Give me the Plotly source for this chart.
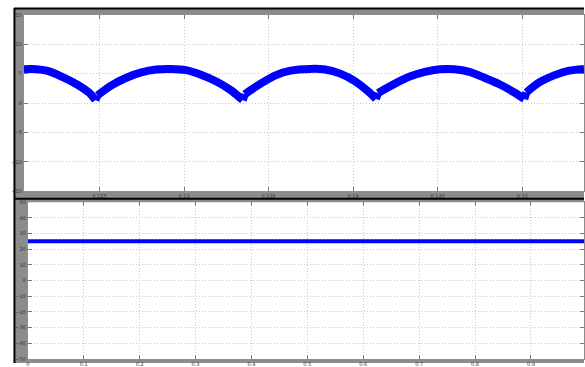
import plotly.graph_objects as go

# Top scope: rectified output voltage (V) over time (s)
t_top = [0.12053, 0.12100, 0.12188, 0.12276, 0.12365, 0.12441, 0.12476, 0.12488,
         0.12571, 0.12659, 0.12747, 0.12835, 0.12924, 0.13012, 0.13100, 0.13188,
         0.13276, 0.13347, 0.13359, 0.13453, 0.13541, 0.13629, 0.13747, 0.13835,
         0.13924, 0.14012, 0.14088, 0.14135, 0.14147, 0.14247, 0.14335, 0.14424,
         0.14512, 0.14600, 0.14688, 0.14776, 0.14865, 0.14953, 0.15012, 0.15024,
         0.15100, 0.15188, 0.15276, 0.15365]
v_top = [5.75, 5.8, 5.5, 4.5, 3.2, 1.7, 0.5, 1.3,
         3.0, 4.3, 5.2, 5.7, 5.8, 5.6, 4.8, 3.7,
         2.2, 0.5, 1.5, 3.3, 4.7, 5.5, 5.8, 5.7,
         5.0, 3.7, 2.0, 0.7, 1.7, 3.3, 4.5, 5.3,
         5.75, 5.75, 5.3, 4.3, 3.2, 1.8, 0.7, 1.8,
         3.5, 4.7, 5.5, 5.8]

# Bottom scope: steady DC level
t_bot = [0.0, 0.25, 0.5, 0.75, 1.0]
v_bot = [25, 25, 25, 25, 25]

top_xticks = [0.125, 0.13, 0.135, 0.14, 0.145, 0.15]
top_xlabels = ["0.125", "0.13", "0.135", "0.14", "0.145", "0.15"]
top_yticks = [-15, -10, -5, 0, 5, 10, 15]
bot_xticks = [0, 0.1, 0.2, 0.3, 0.4, 0.5, 0.6, 0.7, 0.8, 0.9]
bot_xlabels = ["0", "0.1", "0.2", "0.3", "0.4", "0.5", "0.6", "0.7", "0.8", "0.9"]
bot_yticks = [-50, -40, -30, -20, -10, 0, 10, 20, 30, 40, 50]

W, H = 585, 367


def px_x(x):
    return x / W


def px_y(y):
    return 1 - y / H


BLUE = "#0000ff"
FRAME = "#8c8c8c"
GRID = "#c8c8c8"
TICKFONT = dict(family="DejaVu Sans", size=5, color="#333333")

fig = go.Figure()
# the cusp after each trough is kept by splitting the arches into separate segments
seg_breaks = [i for i in range(1, len(t_top)) if v_top[i] > v_top[i - 1] and v_top[i - 1] <= 0.7]
starts = [0] + seg_breaks
ends = seg_breaks + [len(t_top)]
for a, b in zip(starts, ends):
    fig.add_trace(go.Scatter(x=t_top[a:b], y=v_top[a:b], mode="lines",
                             line=dict(color=BLUE, width=8, shape="spline", smoothing=0.8),
                             xaxis="x", yaxis="y", showlegend=False))
    if b < len(t_top):
        # short link across the cusp
        fig.add_trace(go.Scatter(x=t_top[b - 1:b + 1], y=v_top[b - 1:b + 1], mode="lines",
                                 line=dict(color=BLUE, width=8),
                                 xaxis="x", yaxis="y", showlegend=False))
fig.add_trace(go.Scatter(x=t_bot, y=v_bot, mode="lines",
                         line=dict(color=BLUE, width=4),
                         xaxis="x2", yaxis="y2", showlegend=False))

axis_common = dict(showgrid=True, gridcolor=GRID, griddash="1px,2px", gridwidth=1,
                   zeroline=False, ticks="inside", ticklen=4, tickcolor="#777777",
                   showline=True, linecolor=FRAME, linewidth=1, mirror="ticks",
                   tickfont=TICKFONT)

fig.update_layout(
    width=W, height=H,
    margin=dict(l=0, r=0, t=0, b=0),
    paper_bgcolor="white", plot_bgcolor="white",
    xaxis=dict(domain=[px_x(22), 1], range=[t_top[0], t_top[-1]],
               tickvals=top_xticks, ticktext=top_xlabels, anchor="y", **axis_common),
    yaxis=dict(domain=[px_y(192), px_y(12)], range=[-15, 15],
               tickvals=top_yticks, anchor="x", **axis_common),
    xaxis2=dict(domain=[px_x(26), 1], range=[0, 0.995],
                tickvals=bot_xticks, ticktext=bot_xlabels, anchor="y2", **axis_common),
    yaxis2=dict(domain=[px_y(363), px_y(203)], range=[-50, 50],
                tickvals=bot_yticks, anchor="x2", **axis_common),
)

shapes = [
    # scope window frame
    dict(type="rect", xref="paper", yref="paper", layer="below",
         x0=px_x(13), x1=1, y0=0, y1=px_y(6), fillcolor=FRAME, line=dict(width=0)),
    dict(type="rect", xref="paper", yref="paper", layer="below",
         x0=px_x(22), x1=1, y0=px_y(192), y1=px_y(12), fillcolor="white", line=dict(width=0)),
    dict(type="rect", xref="paper", yref="paper", layer="below",
         x0=px_x(26), x1=1, y0=px_y(363), y1=px_y(203), fillcolor="white", line=dict(width=0)),
    dict(type="line", xref="paper", yref="paper",
         x0=px_x(12), x1=1, y0=px_y(5.5), y1=px_y(5.5), line=dict(color="black", width=2)),
    dict(type="line", xref="paper", yref="paper",
         x0=px_x(12.5), x1=px_x(12.5), y0=0, y1=px_y(5), line=dict(color="black", width=2)),
    dict(type="line", xref="paper", yref="paper",
         x0=px_x(12), x1=1, y0=px_y(199.5), y1=px_y(199.5), line=dict(color="black", width=2)),
]
fig.update_layout(shapes=shapes)

# caption line above the scope window (only its lowest strokes fall inside the page)
fig.add_annotation(xref="paper", yref="paper", x=px_x(45), y=px_y(0), yshift=1,
                   xanchor="left", yanchor="bottom", showarrow=False,
                   text="Output voltage of the supply",
                   font=dict(family="Liberation Serif", size=22, color="black"))

fig.write_html("out.html")
